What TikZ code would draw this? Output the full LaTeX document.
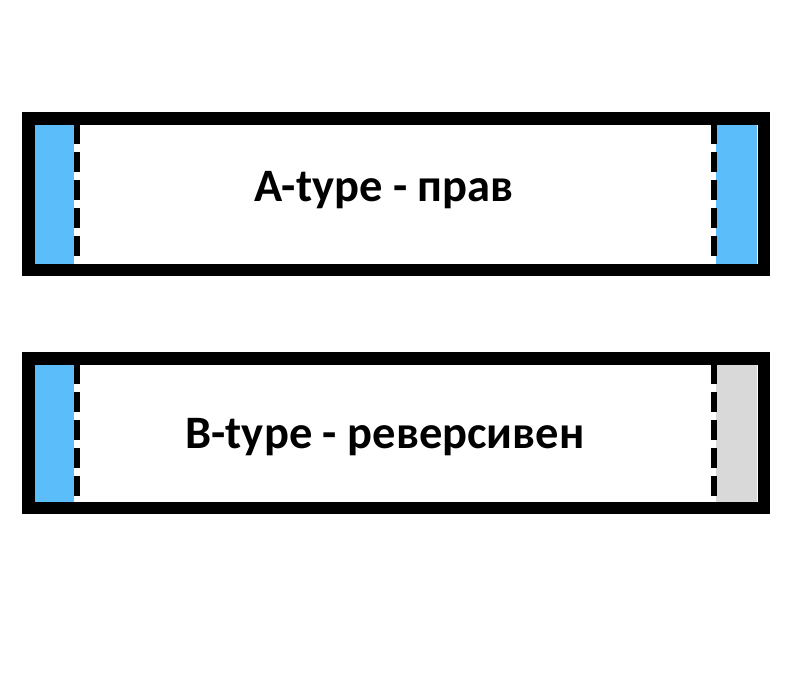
\documentclass[tikz,border=0pt]{standalone}
\usepackage{fontspec}
\setmainfont{Carlito}
\definecolor{skyb}{HTML}{5BBEFA}
\definecolor{grayf}{HTML}{D9D9D9}
\tikzset{frame/.style={draw=black,line width=12.5pt},
dashln/.style={draw=black,line width=6pt,dash pattern=on 20pt off 8pt},
lbl/.style={font=\bfseries\fontsize{46.5}{50}\selectfont}}
\begin{document}
\begin{tikzpicture}[x=1pt,y=-1pt]
\useasboundingbox (0,0) rectangle (790,699);
% top
\fill[skyb] (35,124) rectangle (74,264);
\fill[skyb] (716,124) rectangle (757,264);
\draw[dashln] (77,124) -- (77,264);
\draw[dashln] (714,124) -- (714,264);
\draw[frame] (28.25,118.25) rectangle (763.75,269.75);
\node[lbl] (a) at (384,190) {A-type - прав};
% bottom
\fill[skyb] (35,364) rectangle (74,502);
\fill[grayf] (716,364) rectangle (757,502);
\draw[dashln] (77,364) -- (77,502);
\draw[dashln] (714,364) -- (714,502);
\draw[frame] (28.25,358.25) rectangle (763.75,507.75);
\node[lbl] (b) at (385,437) {B-type - реверсивен};
\end{tikzpicture}
\end{document}
